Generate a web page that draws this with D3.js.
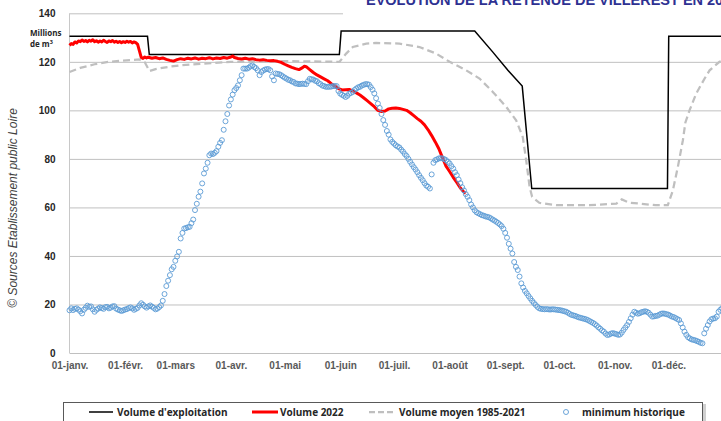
<!DOCTYPE html>
<html>
<head>
<meta charset="utf-8">
<script src="https://d3js.org/d3.v7.min.js"></script>
<style>
  body { margin: 0; background: #fff; }
  svg { display: block; }
</style>
</head>
<body>
<div id="chart"></div>
<script>
// month starts (day of year) and their labels
var monthDays = [0, 31, 59, 90, 120, 151, 181, 212, 243, 273, 304, 334];
var monthLabels = ["01-janv.", "01-févr.", "01-mars", "01-avr.", "01-mai", "01-juin",
  "01-juil.", "01-août", "01-sept.", "01-oct.", "01-nov.", "01-déc."];
var yTicks = [0, 20, 40, 60, 80, 100, 120, 140];

// Volume d'exploitation : [jour, Mm3]
var exploitation = [[0, 130.5], [43.5, 130.5], [44.5, 123], [150.5, 123], [151.5, 132.7],
  [226, 132.7], [236, 124.1], [244.5, 116.5], [252.5, 110], [257.8, 67.8],
  [333.5, 67.8], [334.2, 130.5], [365, 130.5]];

// Volume 2022
var volume2022 = [[0, 126.8], [1, 127.5], [2, 127.2], [3, 128.2], [4, 127.8], [5, 128.6], [6, 128.3],
  [7, 129.0], [8, 128.4], [9, 128.8], [10, 128.2], [11, 128.9], [12, 128.5], [13, 129.1], [14, 128.3],
  [15, 128.7], [16, 128.1], [17, 128.6], [18, 128.2], [19, 128.9], [20, 128.4], [21, 128.0], [22, 128.6],
  [23, 128.3], [24, 128.8], [25, 128.1], [26, 128.5], [27, 128.0], [28, 128.4], [29, 127.9], [30, 128.3],
  [31, 128.0], [32, 128.5], [33, 128.1], [34, 128.4], [35, 127.8], [36, 128.2], [37, 127.9], [38, 127.2],
  [39, 124.5], [40, 121.8], [41, 121.4], [42, 122.0], [43, 121.6], [44, 121.9], [46, 121.5], [48, 121.8],
  [50, 121.3], [52, 121.6], [54, 121.0], [56, 120.6], [58, 120.3], [60, 120.9], [62, 121.3], [64, 121.0],
  [66, 121.5], [68, 121.2], [70, 121.6], [72, 121.1], [74, 121.5], [76, 121.3], [78, 121.7], [80, 121.2],
  [82, 121.6], [84, 121.4], [86, 121.8], [88, 121.5], [90, 122.0], [91, 122.4], [92, 121.8], [94, 121.4],
  [96, 121.2], [98, 121.5], [100, 121.1], [102, 121.3], [104, 120.9], [106, 120.7], [108, 120.9],
  [110, 120.6], [112, 120.4], [114, 120.5], [116, 120.2], [118, 119.8], [120, 119.0], [122, 118.3],
  [124, 117.7], [126, 117.2], [128, 116.8], [130, 117.6], [131, 118.2], [132, 118.0], [134, 116.8],
  [136, 115.6], [138, 114.6], [140, 113.8], [142, 113.0], [144, 112.2], [146, 111.0], [148, 110.0],
  [150, 109.0], [152, 108.4], [154, 108.5], [156, 108.6], [158, 108.0], [160, 107.2], [162, 106.3],
  [164, 105.2], [166, 104.0], [168, 102.8], [170, 101.5], [172, 100.0], [174, 99.5], [176, 99.7],
  [178, 100.6], [180, 100.9], [182, 101.0], [184, 100.8], [186, 100.4], [188, 100.0], [190, 99.0],
  [192, 97.8], [194, 96.6], [196, 95.5], [198, 94.0], [200, 92.0], [202, 89.6], [204, 87.0], [206, 84.2],
  [208, 80.5], [210, 77.0], [212, 74.8], [214, 72.4], [216, 70.3], [218, 68.0], [220, 66.3], [221, 65.8]];

// Volume moyen 1985-2021
var moyen = [[0, 115.8], [6, 117.5], [14, 119], [22, 120], [30, 120.5], [39, 121], [42, 119.8],
  [44.6, 116.2], [48, 117], [55, 117.9], [62, 118.6], [75, 119.3], [90, 120], [120, 120.3], [150.6, 120],
  [154.3, 123.4], [158, 126.1], [165.5, 127.5], [171, 127.8], [184, 127.5], [195.2, 126.1], [204.5, 123.4],
  [212, 120], [221.2, 116.5], [228.7, 113.1], [236.1, 107.6], [243.6, 101.4], [249.1, 95.9], [252.8, 89],
  [254.7, 79.5], [256.6, 68.5], [258, 64.4], [262, 61.9], [271.4, 60.9], [290, 60.9], [305, 61.6],
  [308, 63.3], [312, 62], [327, 60.9], [333.7, 60.9], [336.5, 67], [339.3, 76.7], [342.1, 87.7],
  [343.5, 95], [345.8, 100], [349.5, 106.9], [354.2, 113.1], [357, 116.5], [362.5, 120], [365, 120.8]];

// minimum historique, une valeur par jour (jour 0 = 1er janvier)
var minimum = [
  17.6, 18.4, 17.7, 18.2, 18.4, 17.9, 17.2, 16.3, 17.8, 18.6,
  19.5, 19.0, 19.2, 18.0, 17.0, 17.8, 18.3, 18.8, 18.5, 18.2,
  18.9, 19.0, 18.4, 18.7, 19.2, 19.3, 18.3, 17.9, 17.6, 17.3,
  17.6, 17.9, 18.1, 18.5, 18.8, 18.4, 17.8, 18.2, 18.6, 19.6,
  20.5, 19.9, 19.2, 18.7, 19.2, 19.6, 19.1, 18.6, 18.0, 18.3,
  18.9, 19.6, 21.5, 24.3, 27.6, 29.8, 32.1, 34.5, 35.5, 38.0,
  39.8, 41.7, 47.2, 49.5, 51.3, 51.5, 51.8, 52.0, 53.5, 55.0,
  58.9, 61.5, 64.4, 66.5, 69.9, 74.0, 76.0, 78.4, 81.5, 82.2,
  82.0, 82.5, 83.2, 85.0, 86.6, 87.7, 92.0, 95.5, 98.5, 102.0,
  104.5, 106.5, 108.3, 109.2, 110.3, 112.4, 114.5, 117.2, 117.2, 117.2,
  117.6, 118.2, 118.5, 117.9, 117.4, 116.5, 114.5, 115.8, 116.4, 116.8,
  117.0, 117.0, 116.5, 114.0, 112.4, 115.2, 115.0, 114.9, 114.5, 114.0,
  113.5, 113.1, 112.6, 112.4, 111.9, 111.7, 111.1, 111.0, 110.8, 110.9,
  111.0, 110.9, 110.8, 112.0, 113.0, 112.8, 112.7, 112.2, 112.0, 111.2,
  110.8, 110.2, 110.0, 109.7, 109.7, 109.7, 109.8, 110.0, 110.0, 110.0,
  108.0, 106.9, 106.4, 106.0, 105.5, 106.0, 106.9, 107.2, 107.6, 108.4,
  109.0, 109.5, 109.7, 110.2, 110.5, 110.8, 110.8, 110.6, 109.6, 108.5,
  107.0, 105.0, 102.8, 101.0, 98.5, 96.0, 94.0, 91.5, 90.0, 88.0,
  87.0, 86.3, 85.6, 85.1, 84.7, 83.8, 83.0, 82.0, 81.2, 80.0,
  78.8, 77.7, 76.6, 75.6, 74.5, 73.3, 72.2, 71.2, 70.0, 69.0,
  68.5, 67.8, 73.6, 78.4, 79.5, 79.8, 80.2, 80.3, 80.2, 79.9,
  79.5, 78.8, 78.1, 77.0, 76.0, 74.5, 73.3, 71.5, 70.0, 68.3,
  67.0, 65.5, 64.4, 63.0, 61.2, 60.0, 58.8, 58.0, 57.6, 57.2,
  56.8, 56.6, 56.3, 56.1, 55.9, 55.5, 55.0, 54.6, 54.1, 53.6,
  53.0, 52.3, 51.2, 49.5, 47.5, 45.0, 43.0, 41.0, 37.5, 35.5,
  34.2, 31.5, 28.7, 27.0, 25.6, 24.6, 23.5, 22.5, 21.5, 20.6,
  19.8, 19.0, 18.4, 18.2, 18.1, 18.0, 18.1, 18.0, 17.9, 18.0,
  18.0, 17.9, 17.8, 17.7, 17.6, 17.4, 17.2, 17.0, 16.6, 16.1,
  15.7, 15.5, 15.3, 15.0, 14.7, 14.5, 14.3, 14.1, 13.9, 13.6,
  13.2, 12.8, 12.4, 11.9, 11.3, 10.6, 10.0, 9.3, 8.8, 8.0,
  7.4, 7.6, 8.0, 8.2, 8.0, 7.8, 7.5, 7.6, 8.4, 9.5,
  10.5, 11.5, 12.8, 14.3, 15.8, 17.0, 16.6, 16.2, 16.4, 16.8,
  17.0, 17.2, 17.0, 16.6, 15.8, 15.0, 15.1, 15.3, 15.4, 15.8,
  16.2, 16.3, 16.2, 16.0, 15.8, 15.4, 15.0, 14.8, 14.4, 14.0,
  13.6, 12.2, 10.5, 8.8, 7.5, 6.5, 6.0, 5.6, 5.4, 5.2,
  4.9, 4.6, 4.2, 4.0, 8.1, 10.0, 11.5, 13.0, 13.9, 14.2,
  14.3, 15.0, 17.0, 17.8, 18.5];

var W = 721, H = 421;
var plotLeft = 69.5, plotTop = 13.3, plotBottom = 353;

var svg = d3.select("#chart").append("svg")
  .attr("width", W).attr("height", H)
  .style("font-family", "'Open Sans', sans-serif");

var x = d3.scaleLinear().domain([0, 365]).range([plotLeft, plotLeft + 365 * 1.793]);
var y = d3.scaleLinear().domain([0, 140]).range([plotBottom, plotTop]);

// gridlines
svg.append("g")
  .attr("transform", "translate(" + plotLeft + ",0)")
  .call(d3.axisLeft(y).tickValues(yTicks.slice(1)).tickSize(-(W - plotLeft)).tickFormat(""))
  .call(g => g.select(".domain").remove())
  .call(g => g.selectAll("line").attr("stroke", "#c0c0c0").attr("stroke-width", 1));

// y axis line + labels
svg.append("line").attr("x1", plotLeft).attr("x2", plotLeft).attr("y1", plotTop).attr("y2", plotBottom)
  .attr("stroke", "#c8c8c8");
svg.append("g")
  .attr("transform", "translate(" + (plotLeft - 11) + ",0)")
  .call(d3.axisLeft(y).tickValues(yTicks).tickSize(0))
  .call(g => g.select(".domain").remove())
  .call(g => g.selectAll("text").attr("fill", "#262626").style("font-size", "10px")
    .style("font-weight", "bold"));

// x axis
svg.append("g")
  .attr("transform", "translate(0," + plotBottom + ")")
  .call(d3.axisBottom(x).tickValues(monthDays).tickSize(0).tickPadding(9)
    .tickFormat((d, i) => monthLabels[i]))
  .call(g => g.select(".domain").attr("stroke", "#c0c0c0").attr("d", "M" + plotLeft + ",0.5H" + W))
  .call(g => g.selectAll("text").attr("fill", "#595959").style("font-size", "10px")
    .style("font-weight", "bold"));

// unit label
svg.append("text").attr("x", 30).attr("y", 35.5).text("Millions")
  .attr("fill", "#262626").style("font-size", "8px").style("font-weight", "bold");
var unit = svg.append("text").attr("x", 30).attr("y", 46.5)
  .attr("fill", "#262626").style("font-size", "8px").style("font-weight", "bold");
unit.append("tspan").text("de m");
unit.append("tspan").text("3").attr("dy", -3).style("font-size", "5.5px");

// source
svg.append("text")
  .attr("transform", "translate(17,208) rotate(-90)")
  .attr("text-anchor", "middle")
  .style("font-family", "'Liberation Sans', Arial, sans-serif")
  .style("font-style", "italic").style("font-size", "12px")
  .attr("fill", "#404040")
  .text("© Sources Etablissement public Loire");

var line = d3.line().x(d => x(d[0])).y(d => y(d[1]));

svg.append("path").datum(exploitation).attr("d", line)
  .attr("fill", "none").attr("stroke", "#000").attr("stroke-width", 1.5);

svg.append("path").datum(moyen).attr("d", line)
  .attr("fill", "none").attr("stroke", "#bfbfbf").attr("stroke-width", 2.25)
  .attr("stroke-dasharray", "7,4");

svg.append("path").datum(volume2022).attr("d", line)
  .attr("fill", "none").attr("stroke", "#ff0000").attr("stroke-width", 3)
  .attr("stroke-linejoin", "round");

svg.append("g").selectAll("circle")
  .data(minimum)
  .enter()
  .append("circle")
  .attr("cx", (d, i) => x(i))
  .attr("cy", d => y(d))
  .attr("r", 2.5)
  .attr("fill", "none")
  .attr("stroke", "#5b9bd5")
  .attr("stroke-width", 0.9);

// title box (cropped at the top)
svg.append("rect").attr("x", 343).attr("y", 0).attr("width", W - 343).attr("height", 16)
  .attr("fill", "#fff");
svg.append("text").attr("x", 366).attr("y", 5)
  .attr("fill", "#2e3192")
  .style("font-family", "'Liberation Sans', Arial, sans-serif")
  .style("font-weight", "bold").style("font-size", "14.5px")
  .text("ÉVOLUTION DE LA RETENUE DE VILLEREST EN 2022");

// legend
var lg = svg.append("g");
lg.append("rect").attr("x", 703).attr("y", 404).attr("width", 3).attr("height", 20).attr("fill", "#d0d0d0");
lg.append("rect").attr("x", 63.5).attr("y", 402.5).attr("width", 639).attr("height", 30)
  .attr("fill", "#fff").attr("stroke", "#595959");
var ly = 412;
var items = [
  { x: 89, w: 24, tx: 117, label: "Volume d'exploitation", stroke: "#000", sw: 1.5 },
  { x: 252, w: 26, tx: 280, label: "Volume 2022", stroke: "#ff0000", sw: 3 },
  { x: 369, w: 24, tx: 399, label: "Volume moyen 1985-2021", stroke: "#bfbfbf", sw: 2.25, dash: "6,3" }
];
items.forEach(function (it) {
  lg.append("line").attr("x1", it.x).attr("x2", it.x + it.w).attr("y1", ly).attr("y2", ly)
    .attr("stroke", it.stroke).attr("stroke-width", it.sw).attr("stroke-dasharray", it.dash || null);
  lg.append("text").attr("x", it.tx).attr("y", ly + 3.5).text(it.label)
    .attr("fill", "#262626").style("font-size", "10px").style("font-weight", "bold");
});
lg.append("circle").attr("cx", 566).attr("cy", ly).attr("r", 2.5)
  .attr("fill", "none").attr("stroke", "#5b9bd5").attr("stroke-width", 0.9);
lg.append("text").attr("x", 582).attr("y", ly + 3.5).text("minimum historique")
  .attr("fill", "#262626").style("font-size", "10px").style("font-weight", "bold");
</script>
</body>
</html>
